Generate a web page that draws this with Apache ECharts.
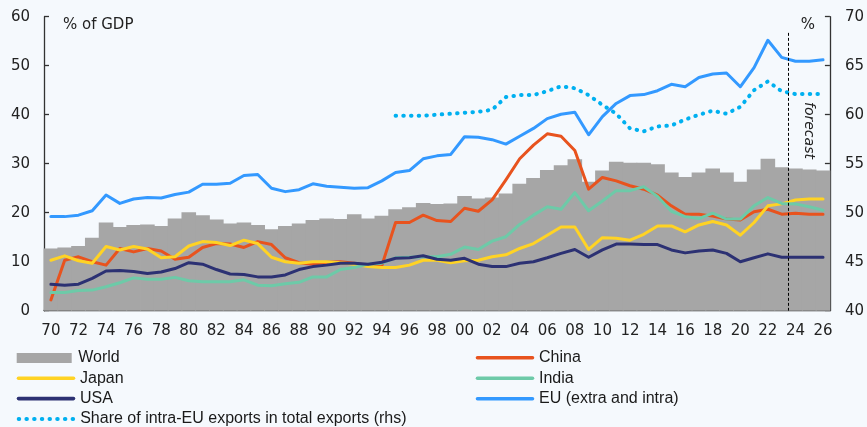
<!DOCTYPE html>
<html><head><meta charset="utf-8">
<script src="https://cdn.jsdelivr.net/npm/echarts@6/dist/echarts.min.js"></script>
<style>html,body{margin:0;padding:0;background:#f5f9fd;}#c{width:867px;height:427px;}</style>
</head><body><div id="c"></div>
<script>
const years = ['1970','1971','1972','1973','1974','1975','1976','1977','1978','1979',
'1980','1981','1982','1983','1984','1985','1986','1987','1988','1989',
'1990','1991','1992','1993','1994','1995','1996','1997','1998','1999',
'2000','2001','2002','2003','2004','2005','2006','2007','2008','2009',
'2010','2011','2012','2013','2014','2015','2016','2017','2018','2019',
'2020','2021','2022','2023','2024','2025','2026'];
const world = [12.7,12.9,13.2,14.9,18.0,17.1,17.5,17.6,17.3,18.8,
20.1,19.5,18.6,17.8,18.0,17.5,16.6,17.3,17.8,18.5,
18.8,18.7,19.7,18.8,19.4,20.7,21.1,22.0,21.8,21.9,
23.4,22.9,23.1,23.9,25.9,27.1,28.7,29.7,30.9,26.3,
28.6,30.4,30.2,30.2,29.9,28.2,27.3,28.2,29.0,28.2,
26.3,28.8,31.0,29.3,29.0,28.8,28.6];
const china = [2.2,10.3,11.0,10.0,9.3,12.7,12.0,12.7,12.2,10.5,
10.9,12.9,13.7,13.6,12.9,14.1,13.5,10.8,9.8,9.5,
9.9,10.0,9.7,9.3,9.2,18.0,18.0,19.5,18.4,18.2,
20.9,20.3,22.6,26.7,31.0,33.8,36.1,35.6,32.7,24.8,
27.2,26.5,25.5,24.8,23.6,21.4,19.7,19.7,19.3,18.7,
18.5,20.2,20.7,19.7,19.9,19.7,19.7];
const japan = [10.3,11.2,10.2,9.7,13.1,12.4,13.1,12.6,10.8,11.0,
13.2,14.1,13.9,13.3,14.4,13.7,10.9,10.0,9.7,10.0,
10.0,9.8,9.5,9.0,8.8,8.8,9.3,10.3,10.3,9.8,
10.2,10.3,11.0,11.4,12.7,13.7,15.4,17.1,17.1,12.5,
14.9,14.8,14.4,15.6,17.3,17.3,16.1,17.5,18.2,17.5,
15.4,18.0,21.4,21.8,22.6,22.8,22.8];
const india = [3.7,3.7,4.1,4.2,4.9,5.7,6.7,6.4,6.4,6.8,
6.1,5.9,5.9,5.9,6.3,5.2,5.1,5.5,5.8,6.9,
6.9,8.4,8.8,9.5,9.7,10.8,10.9,11.0,11.0,11.5,
13.0,12.5,14.2,15.1,17.6,19.5,21.2,20.7,24.1,20.4,
22.4,24.5,24.5,25.3,23.3,20.3,19.2,18.8,19.9,18.7,
18.7,21.4,23.1,21.9,21.8,21.2,20.5];
const usa = [5.4,5.2,5.4,6.6,8.1,8.2,8.0,7.6,7.9,8.6,
9.8,9.5,8.4,7.5,7.4,6.9,6.9,7.3,8.4,9.0,
9.3,9.7,9.7,9.5,9.9,10.7,10.8,11.2,10.5,10.3,
10.7,9.5,9.0,9.0,9.7,10.0,10.8,11.7,12.5,10.9,
12.4,13.6,13.6,13.5,13.5,12.4,11.8,12.2,12.4,11.7,
10.0,10.8,11.6,10.9,10.9,10.9,10.9];
const eu = [19.2,19.2,19.5,20.4,23.6,21.9,22.8,23.1,23.0,23.7,
24.2,25.8,25.8,26.0,27.6,27.8,25.0,24.3,24.7,25.9,
25.4,25.2,25.0,25.1,26.5,28.2,28.6,31.0,31.6,31.9,
35.5,35.4,34.9,34.0,35.6,37.2,39.2,40.1,40.5,35.9,
39.6,42.3,43.9,44.1,44.9,46.2,45.7,47.6,48.3,48.5,
45.7,49.6,55.2,51.7,50.9,50.9,51.2];
const intraShare = [null,null,null,null,null,null,null,null,null,null,
null,null,null,null,null,null,null,null,null,null,
null,null,null,null,null,59.9,59.9,59.9,60.0,60.1,
60.2,60.3,60.5,61.8,62.0,62.0,62.4,62.9,62.7,62.0,
61.0,60.1,58.6,58.3,58.8,58.9,59.5,60.0,60.4,60.1,
60.8,62.5,63.4,62.4,62.1,62.1,62.1];
const leftTicks = [0, 60, 10];
const rightTicks = [40, 70, 5];
const forecastStart = 2023.5;
const forecastTop = 56.7;

const names = {
  world: 'World', china: 'China', japan: 'Japan', india: 'India', usa: 'USA',
  eu: 'EU (extra and intra)', share: 'Share of intra-EU exports in total exports (rhs)'
};
const colors = {
  world: '#a6a6a6', china: '#e8531e', japan: '#ffd324', india: '#6dcaa8',
  usa: '#2c3173', eu: '#3399ff', share: '#00b0f0'
};
const font = 'DejaVu Sans';
const legFont = 'Liberation Sans';
const axisCol = '#333';

function lineSeries(key, data, yIdx, extra) {
  return Object.assign({
    name: names[key], type: 'line', data: data, yAxisIndex: yIdx,
    symbol: 'none', smooth: false, connectNulls: false,
    lineStyle: { color: colors[key], width: 3, cap: 'round', join: 'round' },
    itemStyle: { color: colors[key], opacity: 0 }, z: 3
  }, extra || {});
}

// legend layout: [series key, left px, row centre px]
const legendLayout = [
  ['world', 16.7, 358], ['japan', 16.7, 378.3], ['usa', 16.7, 398.6], ['share', 16.7, 419],
  ['china', 475.7, 357.7], ['india', 475.7, 378.3], ['eu', 475.7, 398.7]
];
const legendText = { fontFamily: legFont, fontSize: 16, color: '#1a1a1a', lineHeight: 16, padding: [0, 0, 0, 1.5] };
const legends = legendLayout.map(([k, l, c]) => ({
  orient: 'horizontal', left: l, top: c - 8, padding: 0, itemWidth: 55, itemHeight: 10,
  textStyle: legendText, selectedMode: false,
  lineStyle: { width: k === 'share' ? 4 : 3.6 },
  data: [k === 'world' ? { name: names[k], icon: 'rect' } : { name: names[k] }]
}));

const chart = echarts.init(document.getElementById('c'), null, { renderer: 'canvas' });
chart.setOption({
  backgroundColor: '#f5f9fd',
  animation: false,
  grid: { left: 44, right: 35.3, top: 16.7, bottom: 116.3, containLabel: false },
  xAxis: [{
    type: 'category', data: years, boundaryGap: true,
    axisLine: { lineStyle: { color: axisCol, width: 1.3 } },
    axisTick: { inside: true, length: 5, interval: 1, lineStyle: { color: axisCol, width: 1.3 } },
    axisLabel: { interval: 1, margin: 13, fontFamily: font, fontSize: 15, color: '#222',
      formatter: v => v.slice(2) },
    splitLine: { show: false }
  }, {
    type: 'value', min: 1969.5, max: 2026.5, show: false, splitLine: { show: false }
  }],
  yAxis: [{
    type: 'value', min: leftTicks[0], max: leftTicks[1], interval: leftTicks[2],
    axisLine: { show: true, lineStyle: { color: axisCol, width: 1.3 } },
    axisTick: { show: true, inside: true, length: 5, lineStyle: { color: axisCol, width: 1.3 } },
    axisLabel: { margin: 14, fontFamily: font, fontSize: 15, color: '#222' },
    splitLine: { show: false }
  }, {
    type: 'value', position: 'right', min: rightTicks[0], max: rightTicks[1], interval: rightTicks[2],
    axisLine: { show: true, lineStyle: { color: axisCol, width: 1.3 } },
    axisTick: { show: true, inside: true, length: 5, lineStyle: { color: axisCol, width: 1.3 } },
    axisLabel: { margin: 15, fontFamily: font, fontSize: 15, color: '#222' },
    splitLine: { show: false }
  }],
  legend: legends,
  series: [
    { name: names.world, type: 'custom', xAxisIndex: 0, yAxisIndex: 0, z: 1,
      data: years.map((y, i) => [y, world[i]]),
      encode: { x: 0, y: 1 },
      itemStyle: { color: colors.world },
      renderItem: (params, api) => {
        const xi = api.value(0);
        const topPt = api.coord([xi, api.value(1)]);
        const basePt = api.coord([xi, 0]);
        const w = api.size([1, 0])[0];
        return { type: 'rect',
          shape: { x: topPt[0] - w / 2 - 0.4, y: topPt[1], width: w + 0.8, height: basePt[1] - topPt[1] },
          style: { fill: colors.world } };
      } },
    lineSeries('china', china, 0),
    lineSeries('japan', japan, 0),
    lineSeries('india', india, 0),
    lineSeries('usa', usa, 0),
    lineSeries('eu', eu, 0),
    lineSeries('share', intraShare, 1, {
      lineStyle: { color: colors.share, width: 4, type: [0.5, 7.2], cap: 'round' }
    }),
    { name: 'forecastMarker', type: 'line', xAxisIndex: 1, yAxisIndex: 0, data: [], silent: true,
      markLine: { silent: true, symbol: ['none', 'none'], label: { show: false },
        lineStyle: { color: '#000', width: 1, type: [3, 2] },
        data: [[{ coord: [forecastStart, forecastTop] }, { coord: [forecastStart, 0] }]] } }
  ]
});

const fx = chart.convertToPixel({ xAxisIndex: 1 }, forecastStart);
const topY = chart.convertToPixel({ yAxisIndex: 0 }, leftTicks[1]);
chart.setOption({
  graphic: [
    { type: 'text', left: 63, top: topY + 0.5,
      style: { text: '% of GDP', fontFamily: font, fontSize: 15, fill: '#222' } },
    { type: 'text', right: 52, top: topY + 0.5,
      style: { text: '%', fontFamily: font, fontSize: 15, fill: '#222' } },
    { type: 'text', x: fx + 20.5, y: 102, rotation: -Math.PI / 2,
      style: { text: 'forecast', fontFamily: font, fontStyle: 'italic', fontSize: 14, fill: '#222',
        align: 'left', verticalAlign: 'middle' } }
  ]
});
</script>
</body></html>
